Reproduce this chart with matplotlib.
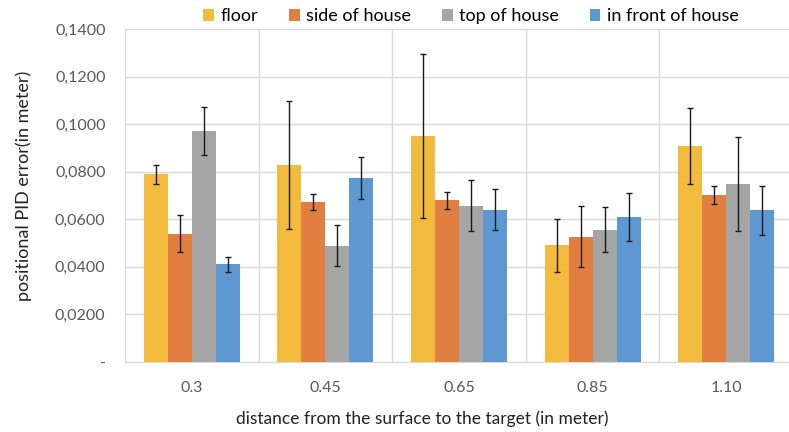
import matplotlib
matplotlib.use("Agg")
import matplotlib.pyplot as plt
import numpy as np
from matplotlib.ticker import FixedLocator, FuncFormatter

categories = ["0.3", "0.45", "0.65", "0.85", "1.10"]
series = ["floor", "side of house", "top of house", "in front of house"]
floor = [0.0790, 0.0829, 0.0950, 0.0490, 0.0909]
floor_err = [0.0040, 0.0270, 0.0345, 0.0113, 0.0160]
side = [0.0540, 0.0672, 0.0680, 0.0527, 0.0702]
side_err = [0.0077, 0.0033, 0.0035, 0.0128, 0.0037]
top = [0.0970, 0.0489, 0.0657, 0.0557, 0.0748]
top_err = [0.0100, 0.0085, 0.0108, 0.0095, 0.0197]
front = [0.0410, 0.0774, 0.0641, 0.0609, 0.0637]
front_err = [0.0033, 0.0087, 0.0088, 0.0100, 0.0102]
yticks = [0, 0.02, 0.04, 0.06, 0.08, 0.10, 0.12, 0.14]

colors = ["#F3BB3E", "#E17F40", "#A5A5A5", "#5E98D3"]
plt.rcParams['font.family'] = ['Lato', 'DejaVu Sans']

fig = plt.figure(figsize=(7.89, 4.32), dpi=100)
ax = fig.add_axes([125/789, 70/432, 668/789, 333/432])

x = np.arange(len(categories))
w = 0.18
vals = [floor, side, top, front]
errs = [floor_err, side_err, top_err, front_err]
for i, (v, e) in enumerate(zip(vals, errs)):
    ax.bar(x + (i - 1.5) * w, v, w, color=colors[i], label=series[i], zorder=3,
           yerr=e, error_kw=dict(ecolor="#1a1a1a", elinewidth=1.0, capsize=2.5, capthick=1.0, zorder=4))

ax.set_xlim(-0.5, len(categories) - 0.5)
ax.set_ylim(0, 0.14)
ax.set_yticks(yticks)
ax.yaxis.set_major_formatter(FuncFormatter(lambda v, p: "-" if abs(v) < 1e-9 else f"{v:.4f}".replace(".", ",")))
ax.set_xticks(x)
ax.set_xticklabels(categories)
ax.xaxis.set_minor_locator(FixedLocator(np.arange(-0.5, len(categories), 1.0)))
ax.grid(axis="y", which="major", color="#D9D9D9", linewidth=1.0, zorder=0)
ax.grid(axis="x", which="minor", color="#D9D9D9", linewidth=1.0, zorder=0)
for s in ["top", "right", "left"]:
    ax.spines[s].set_visible(False)
ax.spines["bottom"].set_color("#D9D9D9")
ax.tick_params(axis="both", which="both", length=0, labelsize=11.5, colors="#595959")
ax.tick_params(axis="x", pad=14)
ax.tick_params(axis="y", pad=14)

ax.set_xlabel("distance from the surface to the target (in meter)", fontsize=12.5, color="#222222")
ax.set_ylabel("positional PID error(in meter)", fontsize=13, color="#222222")
ax.xaxis.set_label_coords((422 - 125) / 668, (362 - 410) / 333)
ax.yaxis.set_label_coords((32 - 125) / 668, (362 - 186) / 333)

fig.legend(loc="upper center", bbox_to_anchor=(0.597, 1.018), ncol=4, frameon=False,
           fontsize=13, handlelength=0.6, handleheight=0.6, handletextpad=0.35, columnspacing=1.7)

fig.savefig("out.png", dpi=100)
